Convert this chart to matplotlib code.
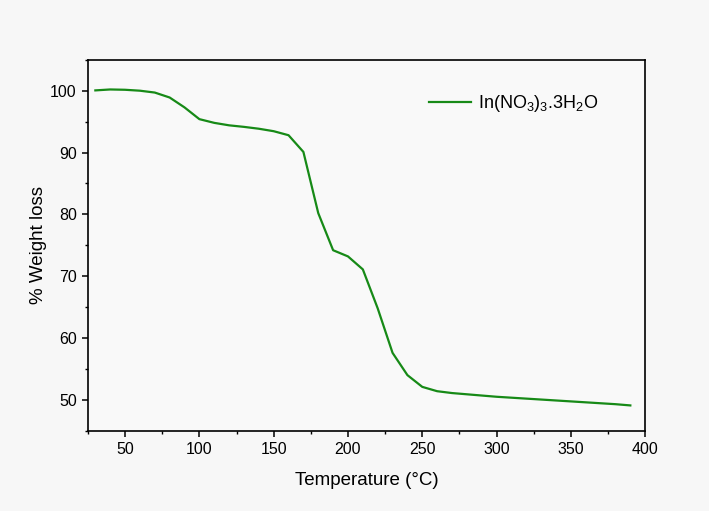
import matplotlib
matplotlib.use("Agg")
import matplotlib.pyplot as plt
from matplotlib.ticker import MultipleLocator

# --- Data ---
temperature = [30, 40, 50, 60, 70, 80, 90, 100, 110, 120, 130, 140, 150, 160,
               170, 180, 190, 200, 210, 220, 230, 240, 250, 260, 270, 280,
               290, 300, 310, 320, 330, 340, 350, 360, 370, 380, 390]
weight = [100.05, 100.2, 100.15, 100.0, 99.7, 98.9, 97.3, 95.4, 94.8, 94.4,
          94.15, 93.85, 93.45, 92.8, 90.1, 80.2, 74.2, 73.2, 71.1, 64.8,
          57.6, 54.0, 52.1, 51.4, 51.1, 50.9, 50.7, 50.5, 50.35, 50.2,
          50.05, 49.9, 49.75, 49.6, 49.45, 49.3, 49.1]
series_label = r'In(NO$_3$)$_3$.3H$_2$O'

plt.rcParams['font.family'] = ['Liberation Sans', 'DejaVu Sans']
plt.rcParams['mathtext.default'] = 'regular'

fig = plt.figure(figsize=(7.09, 5.11), dpi=100, facecolor='#f7f7f7')
ax = fig.add_axes([0.124, 0.157, 0.786, 0.726], facecolor='#f9f9f9')

ax.plot(temperature, weight, color='#178a17', lw=1.6, label=series_label)

ax.set_xlim(25, 400)
ax.set_ylim(45, 105)
ax.xaxis.set_major_locator(MultipleLocator(50))
ax.xaxis.set_minor_locator(MultipleLocator(25))
ax.yaxis.set_major_locator(MultipleLocator(10))
ax.yaxis.set_minor_locator(MultipleLocator(5))
ax.tick_params(which='major', length=4.5, width=1.1, labelsize=11.5, direction='out', pad=3.5)
ax.tick_params(which='minor', length=2.5, width=1.0, direction='out')
for s in ax.spines.values():
    s.set_linewidth(1.2)

ax.set_xlabel('Temperature (°C)', fontsize=13.5, labelpad=11)
ax.set_ylabel('% Weight loss', fontsize=13.5, labelpad=2)

ax.legend(loc='upper left', bbox_to_anchor=(0.583, 0.953), frameon=False,
          fontsize=13, handlelength=2.3, handletextpad=0.4)

fig.savefig('out.png', dpi=100, facecolor=fig.get_facecolor())
